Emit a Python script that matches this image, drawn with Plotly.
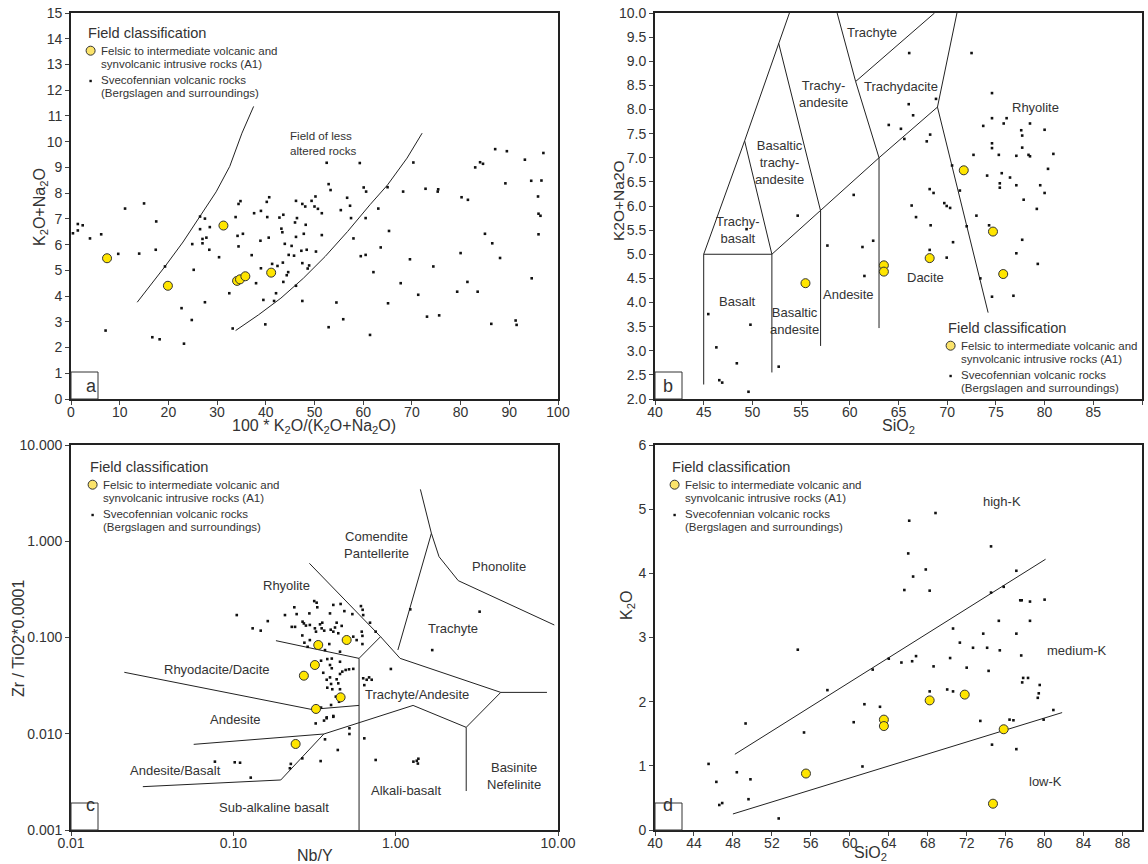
import math
import plotly.graph_objects as go

W, H = 1148, 864

# ---------------- DATA ----------------
# Panel a: 100*K2O/(K2O+Na2O) vs K2O+Na2O
a_dots = [(0.4,6.44),(1.4,6.55),(1.4,6.8),(2.4,6.75),(3.9,6.24),(6.2,6.4),(7.1,2.66),(9.7,5.64),(11.1,7.4),(14,5.65),
          (15,7.6),(16.7,2.4),(17.4,5.8),(17.5,6.9),(18.2,2.32),(19.3,5.15),(22.7,3.53),(23.2,2.15),(24.8,3.07),(24.9,6.02),
          (25.2,5.02),(26.5,7.09),(26.5,6.6),(27,6.22),(27,6.05),(27.5,7.01),(27.5,3.76),(27.8,6.27),(28.4,5.8),(28.5,6.68),
          (30.4,5.51),(32.5,4.11),(33.2,2.74),(33.8,7.07),(34.2,6.34),(34.4,5.93),(34.4,7.58),(34.8,7.69),(35.3,6.42),(37.1,5.59),
          (37.6,7.22),(38,4.5),(38.9,6.15),(39,7.31),(39,5.08),(39.5,3.85),(39.9,2.9),(40.2,7.66),(40.3,7.07),(40.7,7.84),
          (40.6,6.27),(41.3,5.25),(41.7,3.81),(42.1,4.11),(42.4,5.17),(42.8,7.05),(43.2,6.62),(43.4,6.48),(43.5,5.3),(43.6,7.16),
          (43.6,4.55),(43.9,6.03),(44.3,4.81),(44.6,4.93),(44.7,5.6),(45.3,5.95),(45.8,5.57),(46,6.86),(46.2,7.7),(46.2,6.3),
          (46.4,7.03),(46.2,4.4),(47.3,5.76),(47.5,7.58),(47.5,3.81),(47.5,5.28),(47.8,6.42),(48.1,7.48),(48.4,5.8),(48.2,6.77),
          (48.6,5.07),(48.9,5.19),(49.4,7.7),(50,7.48),(50.2,7.87),(50.3,5.73),(50.7,7.39),(51.5,7.22),(51.5,6.37),(52.5,9.18),
          (52.9,8.35),(53.3,8.12),(52.9,2.79),(54.5,3.75),(55.4,7.34),(55.9,3.1),(56.7,7.82),(57.3,7.51),(57.5,7.03),(58,6.24),
          (59.3,9.17),(59.5,5.55),(60.1,8.22),(60.5,7.03),(60.5,5.6),(60.6,8.06),(61.4,2.49),(62.1,4.93),(63.1,7.4),(63.6,5.89),
          (65,8.23),(65.1,3.72),(65.3,6.53),(67.7,4.5),(68.2,8.06),(69.6,5.43),(70.3,9.19),(71.3,4.05),(72.8,8.17),(73.1,3.2),
          (74.4,5.15),(75.3,8.06),(75.4,8.15),(75.6,3.25),(79.3,4.17),(80,5.67),(80.2,7.84),(81.4,4.55),(81.5,7.74),(83,9.0),
          (83.5,4.17),(84,9.2),(84.6,9.14),(85,6.42),(86.3,2.92),(86.5,6.05),(87.1,9.71),(88.1,5.48),(89.2,8.38),(89.5,9.63),
          (91.3,3.05),(91.5,2.88),(93.2,9.3),(94.5,8.48),(94.6,4.69),(95.9,7.87),(96,7.2),(96,6.4),(96.4,7.12),(96.6,8.49),(97,9.56)]
a_yellow_x = [7.4, 19.9, 31.3, 34.1, 34.7, 35.8, 41.1]
a_yellow_y = [5.47, 4.4, 6.74, 4.59, 4.65, 4.77, 4.91]
a_curve_left = [(13.6,3.76),(16.5,4.45),(19.3,5.15),(23,6.1),(26.5,7.09),(29.8,8.05),(32.6,9.04),(35.1,10.33),(37.5,11.37)]
a_curve_right = [(33.8,2.66),(38.5,3.27),(43.1,3.92),(47.7,4.69),(52.2,5.54),(56.8,6.51),(61.4,7.55),(65,8.32),(69,9.36),(72.1,10.33)]

# Panel b: TAS diagram
b_dots = [(45.47,3.76),(46.3,3.07),(46.6,2.39),(46.9,2.34),(48.4,2.74),(49.4,5.52),(49.8,3.54),(49.6,2.15),(52.7,2.67),
          (54.65,5.8),(57.7,5.18),(60.4,6.23),(61.3,5.15),(61.5,4.55),(62.4,5.28),(64.0,7.68),(65.25,7.6),(65.6,7.39),
          (66.1,9.17),(66.05,8.11),(66.5,7.88),(66.35,6.01),(66.8,5.77),(67.9,7.34),(68.25,7.48),(68.2,6.35),(68.6,6.27),
          (68.3,5.6),(68.2,5.09),(68.85,8.22),(69.7,6.06),(69.95,6.0),(70.3,5.96),(69.95,4.93),(70.5,6.84),(70.6,5.25),
          (71.3,6.32),(72.0,5.58),(72.5,9.17),(72.7,7.06),(73.0,5.8),(73.4,4.5),(73.7,7.66),(74.1,6.63),(74.3,5.6),
          (74.6,8.34),(74.6,7.82),(74.6,7.3),(74.6,7.2),(74.6,4.12),(75.3,7.06),(75.4,6.47),(75.4,6.38),(75.6,6.68),
          (75.8,7.71),(76.1,7.82),(76.45,6.59),(76.8,4.14),(77.1,7.04),(77.1,6.43),(77.1,5.02),(77.6,7.57),(77.7,7.46),
          (77.7,7.21),(77.7,5.3),(77.85,6.13),(78.35,7.06),(78.5,7.03),(78.5,7.71),(79.2,5.94),(79.3,4.8),(79.55,6.43),
          (80.0,7.58),(80.0,6.27),(80.35,6.77),(80.9,7.08)]
b_yellow_x = [55.45, 63.5, 63.5, 68.2, 71.7, 74.7, 75.75]
b_yellow_y = [4.4, 4.77, 4.64, 4.92, 6.74, 5.47, 4.59]
b_boundaries = [
    [(45,2.3),(45,5)], [(52,2.55),(52,5)], [(57,3.1),(57,5.9)], [(63,3.47),(63,7)],
    [(45,5),(52,5)], [(45,5),(49.2,7.35),(53.8,10)], [(52,5),(49.2,7.35)],
    [(52,5),(57,5.9),(63,7),(69,8.05)], [(57,5.9),(52.7,9.37)],
    [(63,7),(60.6,8.58),(58.7,10)], [(60.6,8.58),(68.7,10)],
    [(69,8.05),(71.0,10)], [(69,8.05),(74.2,3.79)],
]
b_labels = [("Trachyte",62.3,9.59),("Trachy-<br>andesite",57.35,8.33),("Trachydacite",65.25,8.48),
            ("Rhyolite",79.07,8.05),("Basaltic<br>trachy-<br>andesite",52.8,6.9),("Trachy-<br>basalt",48.5,5.5),
            ("Basalt",48.47,4.02),("Basaltic<br>andesite",54.35,3.62),("Andesite",59.9,4.16),("Dacite",67.8,4.52)]

# Panel c: Nb/Y vs Zr/TiO2*0.0001 (log-log)
c_dots = [(0.105,0.171),(0.163,0.148),(0.1315,0.1245),(0.1475,0.1178),(0.208,0.171),(0.2375,0.206),(0.2455,0.175),
          (0.229,0.129),(0.24,0.129),(0.267,0.146),(0.272,0.140),(0.28,0.133),(0.294,0.178),(0.296,0.135),(0.315,0.239),
          (0.326,0.23),(0.329,0.206),(0.318,0.1245),(0.323,0.115),(0.342,0.137),(0.353,0.1425),(0.35,0.1245),(0.363,0.1178),
          (0.394,0.178),(0.398,0.1205),(0.413,0.218),(0.423,0.127),(0.433,0.1425),(0.443,0.1107),(0.458,0.223),(0.465,0.132),
          (0.483,0.188),(0.413,0.115),(0.266,0.105),(0.274,0.0883),(0.287,0.080),(0.296,0.094),(0.39,0.0855),(0.367,0.074),
          (0.454,0.0712),(0.541,0.175),(0.611,0.212),(0.626,0.194),(0.631,0.171),(0.618,0.115),(0.695,0.1425),(0.753,0.115),
          (0.548,0.102),(0.624,0.104),(0.624,0.0855),(0.575,0.094),
          (0.347,0.0574),(0.379,0.0597),(0.404,0.0604),(0.394,0.0518),(0.404,0.0479),(0.454,0.056),(0.469,0.0442),
          (0.454,0.0418),(0.492,0.046),(0.516,0.0467),(0.548,0.0472),(0.358,0.043),(0.394,0.0385),(0.433,0.0368),
          (0.376,0.0364),(0.4,0.0329),(0.379,0.0301),(0.407,0.029),(0.443,0.0334),(0.454,0.029),(0.428,0.0243),
          (0.448,0.0215),(0.4,0.0199),(0.413,0.015),(0.376,0.0145),(0.347,0.0187),
          (0.631,0.0377),(0.663,0.0364),(0.686,0.0385),(0.712,0.0364),(0.641,0.032),(0.934,0.0471),(1.23,0.196),
          (1.68,0.074),(3.29,0.1855),
          (0.3216,0.0128),(0.362,0.0137),(0.376,0.0148),(0.413,0.0153),(0.519,0.0114),(0.519,0.00994),(0.367,0.00875),
          (0.44,0.00678),(0.641,0.00896),(0.266,0.00555),(0.345,0.0052),(0.226,0.00486),(0.223,0.00438),(0.128,0.0035),
          (0.077,0.00513),(0.102,0.00505),(0.11,0.005),(0.753,0.00534),(1.286,0.00513),(1.349,0.00524),(1.38,0.0055),
          (1.37,0.0049)]
c_yellow_x = [0.3335, 0.499, 0.318, 0.272, 0.458, 0.323, 0.242]
c_yellow_y = [0.0836, 0.0942, 0.0518, 0.0401, 0.0239, 0.0181, 0.00783]
c_boundaries = [
    [(0.294,0.59),(0.807,0.102),(1.065,0.0607),(4.44,0.0269),(8.55,0.0269)],
    [(0.183,0.0927),(0.595,0.0607),(0.807,0.102)],
    [(0.595,0.0607),(0.595,0.001)],
    [(0.0213,0.0435),(0.303,0.0179),(0.595,0.0197)],
    [(0.057,0.00776),(0.361,0.00994)],
    [(0.0277,0.00282),(0.196,0.00331),(0.361,0.00994),(1.28,0.0197),(2.72,0.01166),(4.44,0.0269)],
    [(2.72,0.01166),(2.72,0.00254)],
    [(1.032,0.0742),(1.66,1.209)],
    [(1.42,3.46),(1.66,1.209),(1.85,0.691),(2.43,0.3896),(9.49,0.1349)],
]
c_labels = [("Comendite<br>Pantellerite",0.76,0.915),("Phonolite",4.32,0.553),("Rhyolite",0.212,0.343),
            ("Trachyte",2.265,0.1245),("Rhyodacite/Dacite",0.079,0.0467),("Trachyte/Andesite",1.36,0.0257),
            ("Andesite",0.1026,0.0139),("Andesite/Basalt",0.0442,0.0042),("Basinite<br>Nefelinite",5.33,0.00363),
            ("Alkali-basalt",1.164,0.0026),("Sub-alkaline basalt",0.179,0.00172)]

# Panel d: SiO2 vs K2O
d_dots = [(45.5,1.03),(46.3,0.75),(46.6,0.39),(46.9,0.42),(48.4,0.9),(49.3,1.66),(49.6,0.48),(49.8,0.79),(52.7,0.18),
          (54.66,2.81),(55.3,1.52),(57.7,2.18),(60.4,1.68),(61.3,0.99),(61.5,1.96),(62.35,2.5),(63.1,1.92),(64.0,2.67),
          (65.3,2.61),(65.6,3.74),(66.0,4.31),(66.1,4.82),(66.4,2.63),(66.5,3.95),(66.8,2.71),(67.8,4.06),(68.2,3.73),
          (68.2,2.16),(68.6,2.55),(68.8,4.94),(70.0,2.19),(70.3,2.68),(70.6,3.14),(70.6,2.16),(71.3,2.92),(72.0,2.53),
          (72.65,2.84),(73.4,1.7),(73.7,3.06),(74.1,2.84),(74.25,2.48),(74.5,4.42),(74.5,3.7),(74.6,1.33),(75.3,3.26),
          (75.4,2.8),(75.8,3.79),(76.4,1.72),(76.8,1.71),(77.1,4.04),(77.1,3.06),(77.1,1.26),(77.5,3.58),(77.65,3.58),
          (77.6,2.72),(77.7,2.3),(77.8,2.37),(78.3,2.37),(78.5,3.56),(78.5,3.26),(79.3,2.06),(79.4,2.13),(79.5,2.26),
          (80.0,3.59),(79.9,1.72),(80.9,1.87)]
d_yellow_x = [55.5, 63.5, 63.5, 68.2, 71.8, 75.8, 74.7]
d_yellow_y = [0.88, 1.72, 1.62, 2.02, 2.11, 1.57, 0.41]
d_boundaries = [[(48.2,1.18),(80.1,4.22)], [(48.0,0.25),(81.8,1.83)]]
d_labels = [("high-K",75.6,5.12),("medium-K",83.3,2.8),("low-K",80.1,0.75)]

legend_title = "Field classification"
legend_item1 = ["Felsic to intermediate volcanic and", "synvolcanic intrusive rocks (A1)"]
legend_item2 = ["Svecofennian volcanic rocks", "(Bergslagen and surroundings)"]

# ---------------- FIGURE ----------------
FONT = "Liberation Sans, Arial, sans-serif"
TXT = "#333333"
YELLOW = "#FFE500"

fig = go.Figure()

panels = {
    "a": dict(xa="x", ya="y", xd=(71, 558), yd=(13, 399)),
    "b": dict(xa="x2", ya="y2", xd=(655, 1142), yd=(13, 399)),
    "c": dict(xa="x3", ya="y3", xd=(71, 558), yd=(445, 830)),
    "d": dict(xa="x4", ya="y4", xd=(655, 1142), yd=(445, 830)),
}

def add_panel(key, dots, yx, yy, bounds):
    p = panels[key]
    for seg in bounds:
        fig.add_trace(go.Scatter(x=[q[0] for q in seg], y=[q[1] for q in seg], mode="lines",
                                 line=dict(color="#222222", width=1), xaxis=p["xa"], yaxis=p["ya"],
                                 showlegend=False, hoverinfo="skip"))
    fig.add_trace(go.Scatter(x=[q[0] for q in dots], y=[q[1] for q in dots], mode="markers",
                             marker=dict(color="#111111", size=2.6, symbol="square"),
                             xaxis=p["xa"], yaxis=p["ya"], showlegend=False))
    fig.add_trace(go.Scatter(x=yx, y=yy, mode="markers",
                             marker=dict(color=YELLOW, size=9, line=dict(color="#333333", width=1)),
                             xaxis=p["xa"], yaxis=p["ya"], showlegend=False))

add_panel("a", a_dots, a_yellow_x, a_yellow_y, [a_curve_left, a_curve_right])
add_panel("b", b_dots, b_yellow_x, b_yellow_y, b_boundaries)
add_panel("c", c_dots, c_yellow_x, c_yellow_y, c_boundaries)
add_panel("d", d_dots, d_yellow_x, d_yellow_y, d_boundaries)

annotations = []
shapes = []

def px_x(v):
    return v / W

def px_y(v):
    return 1 - v / H

def add_labels(key, labels, logx=False, logy=False):
    p = panels[key]
    for t, x, y in labels:
        annotations.append(dict(text=t, x=math.log10(x) if logx else x, y=math.log10(y) if logy else y,
                                xref=p["xa"], yref=p["ya"], showarrow=False,
                                font=dict(family=FONT, size=13, color=TXT), align="center"))

add_labels("b", b_labels)
add_labels("c", c_labels, logx=True, logy=True)
add_labels("d", d_labels)
annotations.append(dict(text="Field of less<br>altered rocks", x=44.6, y=9.95, xref="x", yref="y",
                        xanchor="left", showarrow=False, align="left",
                        font=dict(family=FONT, size=11.6, color=TXT)))

def add_legend(lx, ly):
    annotations.append(dict(text=legend_title, x=px_x(lx), y=px_y(ly), xref="paper", yref="paper",
                            xanchor="left", yanchor="middle", showarrow=False,
                            font=dict(family=FONT, size=14.6, color=TXT)))
    for i, line in enumerate(legend_item1 + legend_item2):
        dy = [17.7, 30.7, 47.3, 60.3][i]
        annotations.append(dict(text=line, x=px_x(lx + 13), y=px_y(ly + dy), xref="paper", yref="paper",
                                xanchor="left", yanchor="middle", showarrow=False,
                                font=dict(family=FONT, size=11.5, color=TXT)))
    cx, cy = lx + 4.6, ly + 17.7
    shapes.append(dict(type="circle", xref="paper", yref="paper",
                       x0=px_x(cx - 4.5), x1=px_x(cx + 4.5), y0=px_y(cy + 4.5), y1=px_y(cy - 4.5),
                       fillcolor="#FBE36A", line=dict(color="#333333", width=1)))
    cy2 = ly + 48
    shapes.append(dict(type="rect", xref="paper", yref="paper",
                       x0=px_x(cx - 1.2), x1=px_x(cx + 1.2), y0=px_y(cy2 + 1.2), y1=px_y(cy2 - 1.2),
                       fillcolor="#111111", line=dict(width=0)))

add_legend(86, 33)
add_legend(946, 328)
add_legend(88, 467)
add_legend(670, 467)

for key in "abcd":
    p = panels[key]
    x0, y1 = p["xd"][0], p["yd"][1]
    shapes.append(dict(type="rect", xref="paper", yref="paper",
                       x0=px_x(x0), x1=px_x(x0 + 27), y0=px_y(y1), y1=px_y(y1 - 27),
                       fillcolor="white", line=dict(color="#333333", width=1)))
    annotations.append(dict(text=key, x=px_x(x0 + 13), y=px_y(y1 - 13), xref="paper", yref="paper",
                            showarrow=False, font=dict(family=FONT, size=18, color=TXT)))

# axis titles (placed as annotations in pixel positions)
axis_titles = [
    ("100 * K<sub>2</sub>O/(K<sub>2</sub>O+Na<sub>2</sub>O)", 314, 426, 0, 16),
    ("K<sub>2</sub>O+Na<sub>2</sub>O", 40, 207, -90, 16),
    ("SiO<sub>2</sub>", 898, 426, 0, 16),
    ("K2O+Na2O", 619, 201, -90, 15.5),
    ("Nb/Y", 315, 855, 0, 16),
    ("Zr / TiO2*0.0001", 18, 639, -90, 16),
    ("SiO<sub>2</sub>", 870, 853, 0, 16),
    ("K<sub>2</sub>O", 627, 606, -90, 16),
]
for t, x, y, ang, fs in axis_titles:
    annotations.append(dict(text=t, x=px_x(x), y=px_y(y), xref="paper", yref="paper", showarrow=False,
                            textangle=ang, xanchor="center", yanchor="middle",
                            font=dict(family=FONT, size=fs, color=TXT)))

axis_common = dict(showline=True, linecolor="#222222", linewidth=1.8, mirror=True, ticks="outside",
                   ticklen=4, tickcolor="#444444", showgrid=False, zeroline=False, automargin=False,
                   tickfont=dict(family=FONT, size=14, color=TXT))
xaxis_extra = dict(ticklabelstandoff=-5)

def dom_x(p):
    return [p["xd"][0] / W, p["xd"][1] / W]

def dom_y(p):
    return [1 - p["yd"][1] / H, 1 - p["yd"][0] / H]

pa, pb, pc, pd = panels["a"], panels["b"], panels["c"], panels["d"]

fig.update_layout(
    width=W, height=H, margin=dict(l=0, r=0, t=0, b=0, autoexpand=False),
    paper_bgcolor="white", plot_bgcolor="white", showlegend=False,
    font=dict(family=FONT, color=TXT),
    xaxis=dict(axis_common, **xaxis_extra, domain=dom_x(pa), anchor="y", range=[0, 100],
               tickvals=list(range(0, 101, 10))),
    yaxis=dict(axis_common, domain=dom_y(pa), anchor="x", range=[0, 15], tickvals=list(range(0, 16))),
    xaxis2=dict(axis_common, **xaxis_extra, domain=dom_x(pb), anchor="y2", range=[40, 90],
                tickvals=list(range(40, 91, 5))),
    yaxis2=dict(axis_common, domain=dom_y(pb), anchor="x2", range=[2, 10],
                tickvals=[2 + 0.5 * i for i in range(17)], tickformat=".1f"),
    xaxis3=dict(axis_common, **xaxis_extra, domain=dom_x(pc), anchor="y3", type="log", range=[-2, 1],
                tickvals=[0.01, 0.1, 1, 10], ticktext=["0.01", "0.10", "1.00", "10.00"]),
    yaxis3=dict(axis_common, domain=dom_y(pc), anchor="x3", type="log", range=[-3, 1],
                tickvals=[0.001, 0.01, 0.1, 1, 10], ticktext=["0.001", "0.010", "0.100", "1.000", "10.000"]),
    xaxis4=dict(axis_common, **xaxis_extra, domain=dom_x(pd), anchor="y4", range=[40, 90],
                tickvals=list(range(40, 89, 4))),
    yaxis4=dict(axis_common, domain=dom_y(pd), anchor="x4", range=[0, 6], tickvals=list(range(0, 7))),
    annotations=annotations, shapes=shapes,
)

fig.write_html("out.html", config={"displayModeBar": False},
               post_script="document.body.style.margin='0px';document.body.style.overflow='hidden';")
